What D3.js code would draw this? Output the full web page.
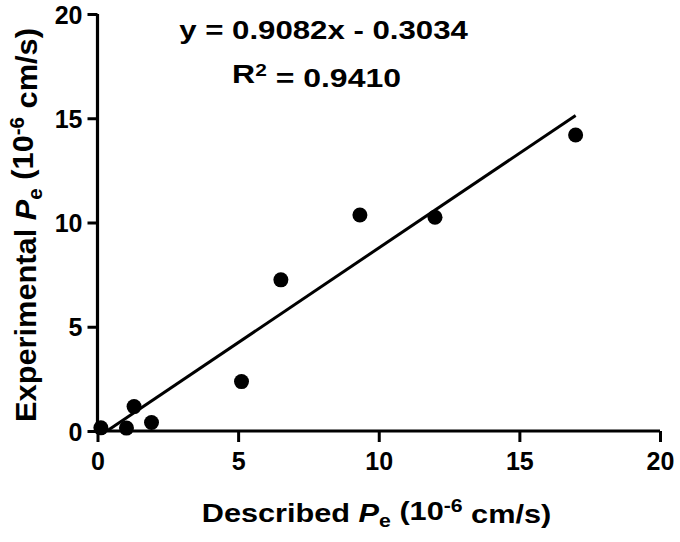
<!DOCTYPE html>
<html>
<head>
<meta charset="utf-8">
<script src="https://cdn.jsdelivr.net/npm/d3@7"></script>
<style>
  html, body { margin: 0; padding: 0; background: #fff; }
  svg { display: block; font-family: "Liberation Sans", Arial, sans-serif; }
</style>
</head>
<body>
<svg id="chart" width="680" height="542"></svg>
<script>
// Data
const describedPe = [0.12, 1.03, 1.3, 1.92, 5.12, 6.52, 9.33, 12.0, 17.0];
const experimentalPe = [0.15, 0.14, 1.17, 0.41, 2.37, 7.25, 10.36, 10.25, 14.2];
const xTicks = [0, 5, 10, 15, 20];
const yTicks = [0, 5, 10, 15, 20];
const fitSlope = 0.9082;
const fitIntercept = -0.3034;
const fitRange = [0.334, 17.0];
const equationText = "y = 0.9082x - 0.3034";
const r2Value = "0.9410";

const svg = d3.select("#chart");

const x = d3.scaleLinear().domain([0, 20]).range([97.5, 660]);
const y = d3.scaleLinear().domain([0, 20]).range([431, 14]);

// Axes
const xAxis = svg.append("g")
  .attr("transform", `translate(0,${y(0)})`)
  .call(d3.axisBottom(x).tickValues(xTicks).tickSize(11).tickPadding(8).tickFormat(d3.format("d")));
const yAxis = svg.append("g")
  .attr("transform", `translate(${x(0)},0)`)
  .call(d3.axisLeft(y).tickValues(yTicks).tickSize(10).tickPadding(5).tickFormat(d3.format("d")));

[xAxis, yAxis].forEach(g => {
  g.select(".domain").attr("stroke", "#000").attr("stroke-width", 3.2);
  g.selectAll(".tick line").attr("stroke", "#000").attr("stroke-width", 3);
  g.selectAll(".tick text").attr("fill", "#000")
    .style("font-size", "25px").style("font-weight", "bold")
    .style("font-family", "'Liberation Sans', Arial, sans-serif");
});
xAxis.select(".domain").attr("d", `M${x(0)},0H${x(20)}`);
yAxis.select(".domain").attr("d", `M0,${y(0)}V${y(20)}`);
xAxis.selectAll(".tick text").attr("dy", "0.78em");
yAxis.selectAll(".tick text").attr("dy", "0.36em");

// Regression line
const fitData = fitRange.map(v => [v, fitSlope * v + fitIntercept]);
svg.append("path")
  .datum(fitData)
  .attr("fill", "none")
  .attr("stroke", "#000")
  .attr("stroke-width", 3)
  .attr("d", d3.line().x(d => x(d[0])).y(d => y(d[1])));

// Points
svg.append("g").selectAll("circle")
  .data(describedPe.map((d, i) => [d, experimentalPe[i]]))
  .join("circle")
  .attr("cx", d => x(d[0]))
  .attr("cy", d => y(d[1]))
  .attr("r", 7.5)
  .attr("fill", "#000");

// Equation text
svg.append("text")
  .attr("transform", `translate(323.5,39) scale(1.2,1)`)
  .attr("text-anchor", "middle")
  .style("font-size", "26px").style("font-weight", "bold")
  .text(equationText);

const eq2 = svg.append("text")
  .attr("transform", `translate(316.5,83) scale(1.23,1)`)
  .attr("text-anchor", "middle")
  .style("font-size", "26px").style("font-weight", "bold");
eq2.append("tspan").text("R");
eq2.append("tspan").attr("dy", "-0.42em").style("font-size", "17px").text("2");
eq2.append("tspan").attr("dy", "0.42em").text(" = " + r2Value);

// X-axis title
const xt = svg.append("text")
  .attr("transform", `translate(376.5,522) scale(1.18,1)`)
  .attr("text-anchor", "middle")
  .style("font-size", "26px").style("font-weight", "bold");
xt.append("tspan").text("Described ");
xt.append("tspan").style("font-style", "italic").text("P");
xt.append("tspan").attr("dy", "0.3em").style("font-size", "18px").text("e");
xt.append("tspan").attr("dy", "-0.3em").text(" (10");
xt.append("tspan").attr("dy", "-0.45em").style("font-size", "18px").text("-6");
xt.append("tspan").attr("dy", "0.45em").text(" cm/s)");

// Y-axis title
const yt = svg.append("text")
  .attr("transform", `translate(36,225) rotate(-90) scale(1.14,1.08)`)
  .attr("text-anchor", "middle")
  .style("font-size", "27px").style("font-weight", "bold");
yt.append("tspan").text("Experimental ");
yt.append("tspan").style("font-style", "italic").text("P");
yt.append("tspan").attr("dy", "0.3em").style("font-size", "18px").text("e");
yt.append("tspan").attr("dy", "-0.3em").text(" (10");
yt.append("tspan").attr("dy", "-0.45em").style("font-size", "18px").text("-6");
yt.append("tspan").attr("dy", "0.45em").text(" cm/s)");
</script>
</body>
</html>
